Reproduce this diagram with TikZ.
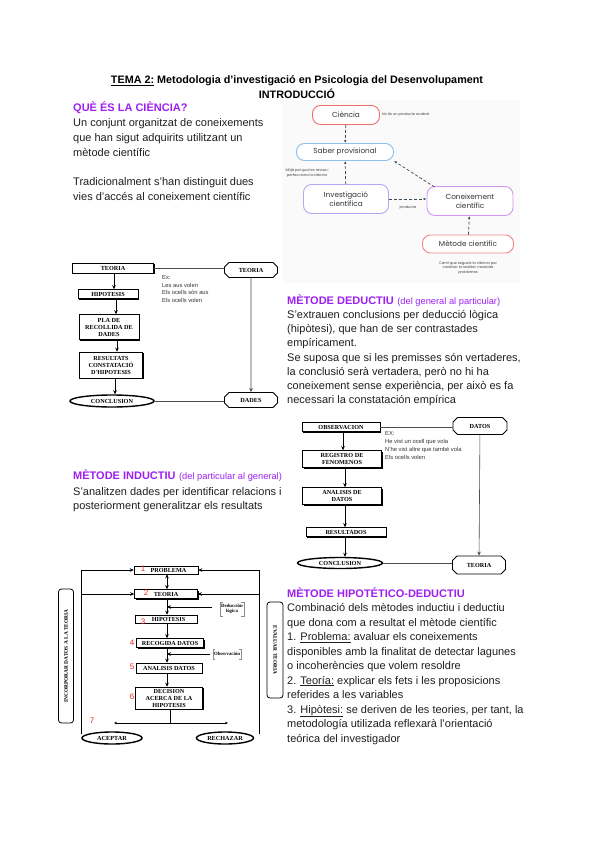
\documentclass[tikz,border=0pt]{standalone}
\usepackage{fontspec}
\setmainfont{Liberation Sans}
\newfontfamily\tms{Liberation Serif}
\newfontfamily\pop{Poppins}
\usetikzlibrary{shapes.misc,shapes.geometric,arrows.meta,shadows}
\definecolor{purp}{RGB}{158,32,240}
\definecolor{cred}{RGB}{240,110,110}
\definecolor{cblue}{RGB}{140,190,240}
\definecolor{clav}{RGB}{178,168,245}
\definecolor{cpink}{RGB}{212,150,242}
\definecolor{csal}{RGB}{240,135,135}
\definecolor{darr}{RGB}{60,75,90}
\definecolor{hred}{RGB}{235,40,40}
\definecolor{bgr}{RGB}{250,250,250}
\begin{document}
\begin{tikzpicture}[x=1pt,y=-1pt,
 txt/.style={anchor=base west, inner sep=0pt, font=\fontsize{11}{13}\selectfont, text=black!88},
 head/.style={anchor=base west, inner sep=0pt, font=\bfseries\fontsize{11}{13}\selectfont, text=purp},
 sub/.style={anchor=base west, inner sep=0pt, font=\fontsize{9.3}{11}\selectfont, text=purp},
 ex/.style={anchor=base west, inner sep=0pt, font=\fontsize{5.8}{7}\selectfont, text=black!80},
 fbox/.style={draw, line width=0.6pt, fill=white, align=center, inner sep=0pt, font=\tms\bfseries\fontsize{6.2}{7}\selectfont, drop shadow={shadow xshift=1.1pt, shadow yshift=-1.1pt, opacity=1, fill=black}},
 fell/.style={ellipse, draw, line width=1.4pt, fill=white, inner sep=0pt, font=\tms\bfseries\fontsize{6.2}{7}\selectfont},
 fcham/.style={chamfered rectangle, chamfered rectangle xsep=2.5pt, chamfered rectangle ysep=2.5pt, draw, line width=0.9pt, fill=white, inner sep=0pt, font=\tms\bfseries\fontsize{6.2}{7}\selectfont},
 arr/.style={line width=0.8pt, -{Stealth[length=4pt,width=3.6pt]}},
 ln/.style={line width=0.6pt, draw=black!70},
 rnode/.style={draw, rounded corners=8pt, line width=0.9pt, fill=white, align=center, inner sep=0pt, font=\pop\fontsize{7.3}{9}\selectfont, text=black!80},
 darrow/.style={dash pattern=on 3pt off 2pt, line width=0.7pt, draw=darr, -{Latex[length=3pt,width=2.5pt]}},
 tiny/.style={inner sep=0pt, align=center, font=\pop\fontsize{3.6}{4.4}\selectfont, text=black!75},
 rnum/.style={inner sep=0pt, text=hred, font=\fontsize{8}{9}\selectfont},
 side/.style={draw, line width=0.8pt, rounded corners=3pt, fill=white, inner sep=0pt, font=\tms\bfseries\fontsize{5.4}{6}\selectfont},
 brk/.style={draw=black!45, line width=0.5pt},
]
\useasboundingbox[fill=white] (0,0) rectangle (600,848);

% ---------- title
\node[anchor=base, inner sep=0pt, font=\bfseries\fontsize{10.8}{12}\selectfont] (t1) at (297,84) {\underline{TEMA 2:} Metodologia d'investigació en Psicologia del Desenvolupament};
\node[anchor=base, inner sep=0pt, font=\bfseries\fontsize{10.8}{12}\selectfont] (t2) at (297,99) {INTRODUCCIÓ};

% ---------- que es la ciencia
\node[head] (qh) at (73,112) {QUÈ ÉS LA CIÈNCIA?};
\node[txt] (q1) at (73,127) {Un conjunt organitzat de coneixements};
\node[txt] (q2) at (73,141.5) {que han sigut adquirits utilitzant un};
\node[txt] (q3) at (73,156) {mètode científic};
\node[txt] (q4) at (73,185.5) {Tradicionalment s'han distinguit dues};
\node[txt] (q5) at (73,200) {vies d'accés al coneixement científic};

% ---------- top-right concept map
\fill[bgr] (282,100) rectangle (520,283);
\node[rnode, draw=cred, minimum width=67, minimum height=19] (tcie) at (346,115) {Ciència};
\node[rnode, draw=cblue, minimum width=97, minimum height=17] (tsab) at (345,152) {Saber provisional};
\node[rnode, draw=clav, minimum width=85, minimum height=29] (tinv) at (346,199) {Investigació\\científica};
\node[rnode, draw=cpink, minimum width=86, minimum height=29] (tcon) at (470,201) {Coneixement\\científic};
\node[rnode, draw=csal, minimum width=91, minimum height=18] (tmet) at (468,244) {Mètode científic};
\node[tiny, anchor=west] (tn1) at (382,115) {No és un producte acabat};
\node[tiny] (tn2) at (307,173) {Mitjà pel qual es revisa i\\perfecciona la ciència};
\node[tiny] (tn3) at (408,208) {producte};
\node[tiny] (tn4) at (468,268) {Camí que segueix la ciència per\\conèixer la realitat i resoldre\\problemes};
\draw[darrow] (tcie) -- (tsab);
\draw[darrow] (tinv) -- (tsab);
\draw[darrow] (tcon.north west) ++(8,1) -- (tsab.south east);
\draw[darrow] (tinv.east) -- (tinv.east -| tcon.west);
\draw[darrow] (tmet) -- (tcon);

% ---------- deductive diagram
\node[fbox, minimum width=81, minimum height=10] (dteo) at (113,268) {TEORIA};
\node[fbox, minimum width=60, minimum height=9] (dhip) at (108,294) {HIPOTESIS};
\node[fbox, minimum width=60, minimum height=25] (dpla) at (109,327) {PLA DE\\RECOLLIDA DE\\DADES};
\node[fbox, minimum width=63, minimum height=26] (dres) at (111,365) {RESULTATS\\CONSTATACIÓ\\D'HIPOTESIS};
\node[fell, minimum width=84, minimum height=12] (dcon) at (112,401) {CONCLUSION};
\node[fcham, minimum width=53, minimum height=15] (dteo2) at (251,270) {TEORIA};
\node[fcham, minimum width=53, minimum height=15] (ddad) at (251,400) {DADES};
\draw[arr] (114,0 |- dteo.south) -- (114,0 |- dhip.north);
\draw[arr] (116,0 |- dhip.south) -- (116,0 |- dpla.north);
\draw[arr] (117,0 |- dpla.south) -- (117,0 |- dres.north);
\draw[arr] (115,0 |- dres.south) -- (115,0 |- dcon.north);
\draw[ln] (dteo.east) -- (dteo.east -| dteo2.west);
\draw[ln] (dcon.east) -- (dcon.east -| ddad.west);
\draw[ln, -{Stealth[length=4pt,width=3.6pt]}] (dteo2) -- (ddad);
\node[ex] (de0) at (162,279) {Ex:};
\node[ex] (de1) at (162,287) {Les aus volen};
\node[ex] (de2) at (162,294.5) {Els ocells són aus};
\node[ex] (de3) at (162,302) {Els ocells volen};

% ---------- deductive text
\node[head] (dh) at (287,304) {MÈTODE DEDUCTIU};
\node[sub] (dh2) at ([xshift=3pt]dh.base east) {(del general al particular)};
\node[txt] (d1) at (287,318.5) {S'extrauen conclusions per deducció lògica};
\node[txt] (d2) at (287,332.7) {(hipòtesi), que han de ser contrastades};
\node[txt] (d3) at (287,346.9) {empíricament.};
\node[txt] (d4) at (287,361.1) {Se suposa que si les premisses són vertaderes,};
\node[txt] (d5) at (287,375.3) {la conclusió serà vertadera, però no hi ha};
\node[txt] (d6) at (287,389.5) {coneixement sense experiència, per això es fa};
\node[txt] (d7) at (287,403.7) {necessari la constatación empírica};

% ---------- inductive diagram
\node[fbox, minimum width=78, minimum height=9] (iobs) at (341,427) {OBSERVACION};
\node[fbox, minimum width=79, minimum height=17] (ireg) at (342,459) {REGISTRO DE\\FENOMENOS};
\node[fbox, minimum width=79, minimum height=17] (iana) at (342,496) {ANALISIS DE\\DATOS};
\node[fbox, minimum width=80, minimum height=9] (ires) at (346,532) {RESULTADOS};
\node[fell, minimum width=85, minimum height=11] (icon) at (340,563) {CONCLUSION};
\node[fcham, minimum width=54, minimum height=17] (idat) at (480,426) {DATOS};
\node[fcham, minimum width=53, minimum height=18] (iteo) at (479,565) {TEORIA};
\draw[arr] (343,0 |- iobs.south) -- (343,0 |- ireg.north);
\draw[arr] (345,0 |- ireg.south) -- (345,0 |- iana.north);
\draw[arr] (345,0 |- iana.south) -- (345,0 |- ires.north);
\draw[arr] (345,0 |- ires.south) -- (345,0 |- icon.north);
\draw[ln] (iobs.east) -- (iobs.east -| idat.west);
\draw[ln] (icon.east) -- (icon.east -| iteo.west);
\draw[ln, -{Stealth[length=4pt,width=3.6pt]}] (idat) -- (iteo);
\node[ex] (ie0) at (385,435) {EX:};
\node[ex] (ie1) at (385,443) {He vist un ocell que vola};
\node[ex] (ie2) at (385,451) {N'he vist altre que també vola};
\node[ex] (ie3) at (385,459) {Els ocells volen};

% ---------- inductive text
\node[head] (ih) at (73,479) {MÈTODE INDUCTIU};
\node[sub] (ih2) at ([xshift=3pt]ih.base east) {(del particular al general)};
\node[txt] (i1) at (73,495) {S'analitzen dades per identificar relacions i};
\node[txt] (i2) at (73,509) {posteriorment generalitzar els resultats};

% ---------- hypothetico-deductive diagram
\node[fbox, minimum width=64, minimum height=8] (hpro) at (166,570) {\hspace{5pt}PROBLEMA};
\node[fbox, minimum width=63, minimum height=9] (hteo) at (166,594) {TEORIA};
\node[fbox, minimum width=62, minimum height=8] (hhip) at (166,619) {\hspace{5pt}HIPOTESIS};
\node[fbox, minimum width=67, minimum height=9] (hrec) at (170,643) {RECOGIDA DATOS};
\node[fbox, minimum width=66, minimum height=10] (hana) at (169,668) {ANALISIS DATOS};
\node[fbox, minimum width=67, minimum height=22] (hdec) at (169,698) {DECISION\\ACERCA DE LA\\HIPOTESIS};
\node[fell, minimum width=60, minimum height=12] (hace) at (112,738) {ACEPTAR};
\node[fell, minimum width=57, minimum height=12] (hrech) at (225,738) {RECHAZAR};
\node[side, rotate=90, minimum width=134, minimum height=15] (hinc) at (66,656) {INCORPORAR DATOS A LA TEORIA};
\node[side, rotate=-90, minimum width=96, minimum height=16] (heva) at (275,650) {EVALUAR TEORIA};
\node[rnum] (n1) at (143,569) {1};
\node[rnum] (n2) at (146,593) {2};
\node[rnum] (n3) at (143,622) {3};
\node[rnum] (n4) at (132,643) {4};
\node[rnum] (n5) at (132,667) {5};
\node[rnum] (n6) at (132,697) {6};
\node[rnum] (n7) at (92,721) {7};
\draw[arr, {Stealth[length=4pt,width=3.6pt]}-{Stealth[length=4pt,width=3.6pt]}] (167,0 |- hpro.south) -- (167,0 |- hteo.north);
\draw[arr] (167,0 |- hteo.south) -- (167,0 |- hhip.north);
\draw[arr] (167,0 |- hhip.south) -- (167,0 |- hrec.north);
\draw[arr] (167,0 |- hrec.south) -- (167,0 |- hana.north);
\draw[arr] (167,0 |- hana.south) -- (167,0 |- hdec.north);
\node[inner sep=1pt, align=center, font=\tms\bfseries\fontsize{4.8}{5.6}\selectfont] (hded) at (232,609) {Deducción\\lógica};
\node[inner sep=1pt, font=\tms\bfseries\fontsize{4.8}{5.6}\selectfont] (hobs) at (227,654) {Observación};
\draw[brk] ([xshift=3pt,yshift=1pt]hded.north west) -- ([yshift=1pt]hded.north west) -- ([yshift=-1pt]hded.south west) -- ([xshift=3pt,yshift=-1pt]hded.south west);
\draw[brk] ([xshift=-3pt,yshift=1pt]hded.north east) -- ([yshift=1pt]hded.north east) -- ([yshift=-1pt]hded.south east) -- ([xshift=-3pt,yshift=-1pt]hded.south east);
\draw[brk] ([xshift=2pt,yshift=2pt]hobs.north west) -- ([yshift=2pt]hobs.north west) -- ([yshift=-2pt]hobs.south west) -- ([xshift=2pt,yshift=-2pt]hobs.south west);
\draw[brk] ([xshift=-2pt,yshift=2pt]hobs.north east) -- ([yshift=2pt]hobs.north east) -- ([yshift=-2pt]hobs.south east) -- ([xshift=-2pt,yshift=-2pt]hobs.south east);
\coordinate (hdin) at (167,607);
\coordinate (hoin) at (167,654);
\draw[arr] (hded.west) ++(-8,-2) -- (hdin);
\draw[arr] (hobs.west) ++(-3,0) -- (hoin);
\coordinate (hsplit) at (170,723);
\coordinate (hsl) at (114,723);
\coordinate (hsr) at (228,723);
\draw[line width=0.8pt] (170,0 |- hdec.south) -- (hsplit);
\draw[arr, line width=0.6pt, -{Stealth[length=3pt,width=2.6pt]}] (hsplit) -- (hsl);
\draw[arr, line width=0.6pt, -{Stealth[length=3pt,width=2.6pt]}] (hsplit) -- (hsr);
\coordinate (hlb) at (81,734);
\coordinate (hlt) at (81,594);
\coordinate (hrb) at (259,734);
\coordinate (hrt) at (259,594);
\draw[arr] (hlb) |- (hpro.west);
\draw[arr] (hlt) -- (hteo.west);
\draw[arr] (hrb) |- (hpro.east);
\draw[arr] (hrt) -- (hteo.east);

% ---------- hypothetico-deductive text
\node[head] (hh) at (287,597) {MÈTODE HIPOTÉTICO-DEDUCTIU};
\node[txt] (h1) at (287,611.5) {Combinació dels mètodes inductiu i deductiu};
\node[txt] (h2) at (287,626) {que dona com a resultat el mètode científic};
\node[txt] (h3) at (287,640.5) {1. \underline{Problema:} avaluar els coneixements};
\node[txt] (h4) at (287,655) {disponibles amb la finalitat de detectar lagunes};
\node[txt] (h5) at (287,669.5) {o incoherències que volem resoldre};
\node[txt] (h6) at (287,684) {2. \underline{Teoría:} explicar els fets i les proposicions};
\node[txt] (h7) at (287,698.5) {referides a les variables};
\node[txt] (h8) at (287,713) {3. \underline{Hipòtesi:} se deriven de les teories, per tant, la};
\node[txt] (h9) at (287,727.5) {metodología utilizada reflexarà l'orientació};
\node[txt] (h10) at (287,742) {teórica del investigador};
\end{tikzpicture}
\end{document}
